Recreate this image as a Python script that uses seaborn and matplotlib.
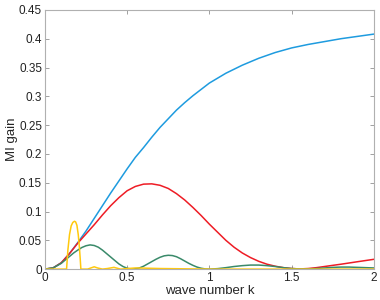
import numpy as np
import pandas as pd
import seaborn as sns
import matplotlib
matplotlib.use("Agg")
import matplotlib.pyplot as plt

# valores
k_azul = [0, 0.05, 0.1, 0.15, 0.2, 0.25, 0.3, 0.35, 0.4, 0.45, 0.5, 0.55, 0.6, 0.65, 0.7,
          0.75, 0.8, 0.85, 0.9, 0.95, 1.0, 1.1, 1.2, 1.3, 1.4, 1.5, 1.6, 1.7, 1.8, 1.9, 2.0]
v_azul = [0, 0.002, 0.011, 0.027, 0.046, 0.066, 0.088, 0.110, 0.132, 0.153, 0.174, 0.194,
          0.211, 0.229, 0.246, 0.261, 0.276, 0.289, 0.301, 0.312, 0.323, 0.340, 0.354, 0.366,
          0.376, 0.384, 0.390, 0.395, 0.400, 0.404, 0.408]

k_vermelho = [0, 0.05, 0.1, 0.15, 0.2, 0.25, 0.3, 0.35, 0.4, 0.45, 0.5, 0.55, 0.6, 0.65, 0.7,
              0.75, 0.8, 0.85, 0.9, 0.95, 1.0, 1.05, 1.1, 1.15, 1.2, 1.25, 1.3, 1.35, 1.4,
              1.45, 1.5, 1.55, 1.6, 1.65, 1.7, 1.8, 1.9, 2.0]
v_vermelho = [0, 0.002, 0.011, 0.027, 0.045, 0.061, 0.077, 0.094, 0.110, 0.124, 0.136, 0.1435,
              0.1475, 0.148, 0.1455, 0.140, 0.131, 0.120, 0.107, 0.093, 0.078, 0.064, 0.050,
              0.038, 0.028, 0.020, 0.0135, 0.0085, 0.005, 0.0025, 0.001, 0.0003, 0.001,
              0.0025, 0.0045, 0.0085, 0.0128, 0.017]

k_verde = [0, 0.05, 0.1, 0.125, 0.15, 0.175, 0.2, 0.225, 0.25, 0.275, 0.3, 0.325, 0.35, 0.375,
           0.4, 0.425, 0.45, 0.475, 0.5, 0.525, 0.55, 0.575, 0.6, 0.625, 0.65, 0.675, 0.7,
           0.725, 0.75, 0.775, 0.8, 0.825, 0.85, 0.875, 0.9, 0.925, 0.95, 0.975, 1.0, 1.05,
           1.1, 1.15, 1.2, 1.25, 1.3, 1.35, 1.4, 1.45, 1.5, 1.55, 1.6, 1.65, 1.7, 1.75, 1.8,
           1.85, 1.9, 1.95, 2.0]
v_verde = [0, 0.002, 0.010, 0.016, 0.022, 0.028, 0.033, 0.0375, 0.0405, 0.042, 0.041, 0.038,
           0.033, 0.027, 0.021, 0.015, 0.009, 0.0045, 0.0015, 0.0, 0.0005, 0.002, 0.005,
           0.009, 0.013, 0.017, 0.0205, 0.023, 0.024, 0.0235, 0.0215, 0.018, 0.014, 0.010,
           0.0065, 0.0035, 0.0015, 0.0003, 0.0, 0.0008, 0.0025, 0.0045, 0.006, 0.007, 0.007,
           0.006, 0.0045, 0.0025, 0.001, 0.0002, 0.0003, 0.001, 0.002, 0.003, 0.0035, 0.0035,
           0.003, 0.0025, 0.002]

k_amarelo = [0, 0.12, 0.132, 0.14, 0.15, 0.16, 0.17, 0.18, 0.187, 0.195, 0.203, 0.21, 0.215,
             0.219, 0.23, 0.26, 0.28, 0.30, 0.32, 0.35, 0.38, 0.42, 0.46, 0.55, 0.7, 1.0,
             1.5, 2.0]
v_amarelo = [0, 0, 0.0, 0.033, 0.060, 0.075, 0.081, 0.083, 0.082, 0.076, 0.060, 0.038, 0.018,
             0.0, 0.0, 0.0, 0.002, 0.004, 0.002, 0.0, 0.001, 0.003, 0.0, 0.002, 0.001, 0.0,
             0.0, 0.0]

series = [
    (k_azul, v_azul, '#1E9BDF'),
    (k_vermelho, v_vermelho, '#EE1C25'),
    (k_verde, v_verde, '#3A8A6A'),
    (k_amarelo, v_amarelo, '#FFC90E'),
]

sns.set_style('ticks')
plt.rcParams['font.family'] = ['Liberation Sans', 'DejaVu Sans']

fig = plt.figure(figsize=(3.8, 3.0), dpi=100)
ax = fig.add_axes([0.118, 0.103, 0.866, 0.864])

for k, v, cor in series:
    df = pd.DataFrame({'k': k, 'v': v})
    sns.lineplot(data=df, x='k', y='v', color=cor, linewidth=1.1, ax=ax, sort=False)

ax.set_xlim(0, 2)
ax.set_ylim(0, 0.45)
ax.set_xticks([0, 0.5, 1, 1.5, 2])
ax.set_xticklabels(['0', '0.5', '1', '1.5', '2'])
ax.set_yticks(np.arange(0, 0.451, 0.05))
ax.set_yticklabels(['0', '0.05', '0.1', '0.15', '0.2', '0.25', '0.3', '0.35', '0.4', '0.45'])
ax.set_xlabel('wave number k', fontsize=9.5, labelpad=1)
ax.set_ylabel('MI gain', fontsize=9.5, labelpad=1)

for s in ax.spines.values():
    s.set_visible(True)
    s.set_color('#B0B0B0')
    s.set_linewidth(0.8)
ax.tick_params(direction='in', length=3, width=0.6, color='#909090', labelsize=8.5,
               labelcolor='#222222', top=True, right=True, pad=2)

fig.savefig('out.png', dpi=100)
